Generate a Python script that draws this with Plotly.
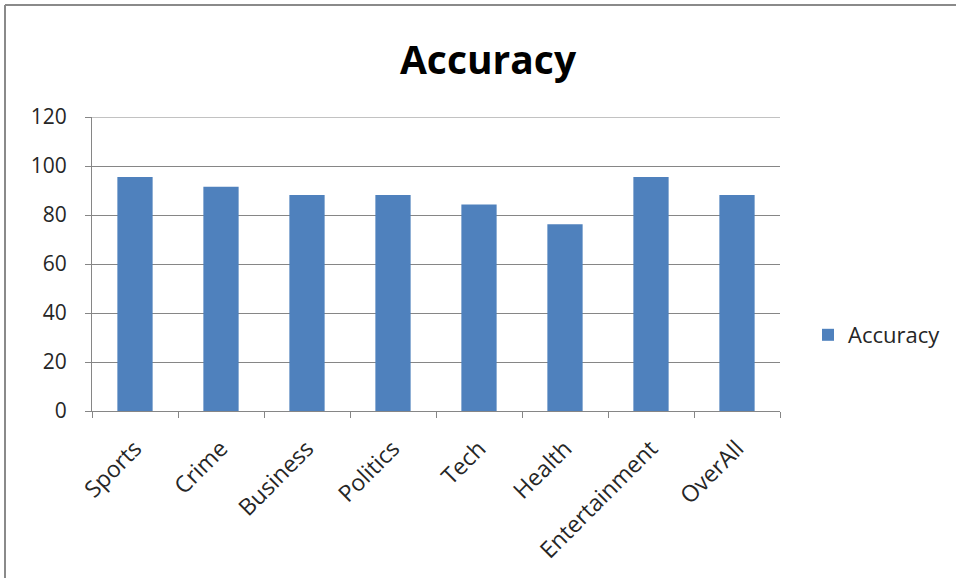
import plotly.graph_objects as go

categories = ["Sports", "Crime", "Business", "Politics", "Tech", "Health", "Entertainment", "OverAll"]
accuracy = [95.5, 91.5, 88.2, 88.2, 84.3, 76.2, 95.5, 88.2]
y_ticks = [0, 20, 40, 60, 80, 100, 120]

W, H = 956, 578
L, R, T, B = 92, 780, 117, 411

def px_x(p):
    return (p - L) / (R - L)

def px_y(p):
    return (B - p) / (B - T)

fig = go.Figure()
fig.add_trace(go.Bar(x=categories, y=accuracy, name="Accuracy", marker=dict(color="#4F81BD", line=dict(width=0)), showlegend=True))

font = "Open Sans, Liberation Sans, sans-serif"
fig.update_layout(
    width=W, height=H,
    margin=dict(l=L, r=W - R, t=T, b=H - B, autoexpand=False),
    paper_bgcolor="white", plot_bgcolor="white",
    font=dict(family=font, size=19, color="#262626"),
    title=dict(text="<b>Accuracy</b>", x=px_x(488), xref="paper", xanchor="center",
               y=1 - 60 / H, yanchor="middle", font=dict(size=39, family=font, color="#000")),
    bargap=0.59,
    showlegend=True,
    legend=dict(x=px_x(808), y=px_y(335), xanchor="left", yanchor="middle", font=dict(size=22),
                bgcolor="rgba(0,0,0,0)", itemwidth=30),
    xaxis=dict(type="category", showgrid=False, showline=True, linecolor="#868686", linewidth=1,
               ticks="outside", ticklen=6, tickcolor="#868686", tickson="boundaries",
               tickangle=-45, tickfont=dict(size=23), ticklabelstandoff=14, automargin=False),
    yaxis=dict(range=[0, 120], tickvals=y_ticks, showgrid=True, gridcolor="#868686", gridwidth=1,
               showline=True, linecolor="#868686", ticks="outside", ticklen=6, tickcolor="#868686",
               zeroline=False, tickfont=dict(size=21), ticklabelstandoff=14, automargin=False),
)
fig.add_shape(type="line", xref="paper", yref="y", x0=0, x1=1, y0=120, y1=120,
              line=dict(color="#868686", width=1))
fig.add_shape(type="line", xref="paper", yref="paper", x0=px_x(5), x1=px_x(956), y0=px_y(5), y1=px_y(5),
              line=dict(color="#8a8a8a", width=2))
fig.add_shape(type="line", xref="paper", yref="paper", x0=px_x(5), x1=px_x(5), y0=px_y(5), y1=px_y(578),
              line=dict(color="#8a8a8a", width=2))
fig.write_html("out.html")
